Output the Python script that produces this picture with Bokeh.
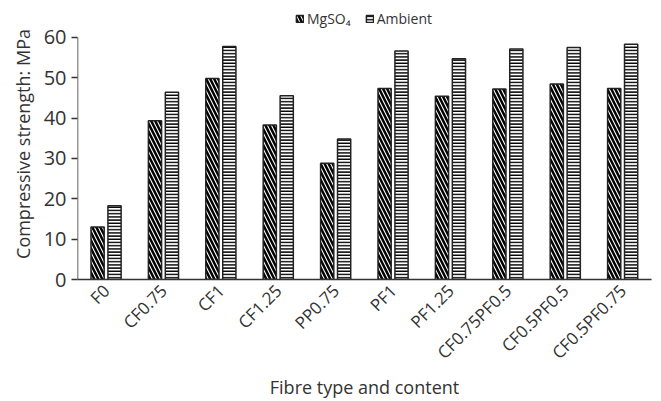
import math
from bokeh.plotting import figure
from bokeh.models import ColumnDataSource, FactorRange, Legend, LegendItem, Range1d, FixedTicker
from bokeh.transform import dodge
from bokeh.embed import file_html
from bokeh.resources import INLINE

categories = ["F0", "CF0.75", "CF1", "CF1.25", "PP0.75", "PF1", "PF1.25",
              "CF0.75PF0.5", "CF0.5PF0.5", "CF0.5PF0.75"]
mgso4 = [13.0, 39.3, 49.8, 38.3, 28.8, 47.3, 45.4, 47.2, 48.4, 47.3]
ambient = [18.3, 46.4, 57.7, 45.5, 34.8, 56.6, 54.7, 57.1, 57.5, 58.3]
series_labels = ["MgSO\u2084", "Ambient"]
y_ticks = [0, 10, 20, 30, 40, 50, 60]

src = ColumnDataSource(dict(cat=categories, mg=mgso4, amb=ambient))

FONT = "Open Sans"
TXT = "#333333"

TOP_BORDER = 8
BOTTOM = 120
FRAME_H = 401 - BOTTOM - TOP_BORDER
y_max = y_ticks[-1]
y_end = y_max * FRAME_H / (FRAME_H - (37 - TOP_BORDER))

p = figure(x_range=FactorRange(*categories), y_range=Range1d(0, y_end),
           width=661, height=401, output_backend="svg", toolbar_location=None,
           min_border_left=77, min_border_right=10, min_border_top=TOP_BORDER,
           min_border_bottom=BOTTOM)
p.x_range.range_padding = 0
p.outline_line_color = None
p.grid.grid_line_color = None
p.background_fill_color = "white"

r1 = p.vbar(x=dodge("cat", -0.15, range=p.x_range), top="mg", width=0.23, source=src,
            fill_color="white", line_color="#222222", line_width=1.5,
            hatch_pattern="\\", hatch_color="black", hatch_scale=8, hatch_weight=2.5)
r2 = p.vbar(x=dodge("cat", 0.145, range=p.x_range), top="amb", width=0.23, source=src,
            fill_color="white", line_color="#222222", line_width=1.5,
            hatch_pattern="-", hatch_color="black", hatch_scale=3.2, hatch_weight=1.6)

# y-axis line only from 0 to the last tick
axis_src = ColumnDataSource(dict(c=[categories[0]], y0=[y_ticks[0]], y1=[y_max]))
p.segment(x0=dodge("c", -0.5, range=p.x_range), x1=dodge("c", -0.5, range=p.x_range),
          y0="y0", y1="y1", source=axis_src, line_color="#333333", line_width=1.5)

p.yaxis.ticker = FixedTicker(ticks=y_ticks)
p.yaxis.axis_label = "Compressive strength: MPa"
p.xaxis.axis_label = "Fibre type and content"
for ax in (p.xaxis[0], p.yaxis[0]):
    ax.axis_label_text_font = FONT
    ax.axis_label_text_font_style = "normal"
    ax.axis_label_text_font_size = "18px"
    ax.axis_label_text_color = TXT
    ax.major_label_text_font = FONT
    ax.major_label_text_color = TXT
    ax.axis_line_color = "#333333"
    ax.axis_line_width = 1.5
    ax.minor_tick_line_color = None
p.yaxis.axis_line_color = None
p.yaxis.major_label_text_font_size = "20px"
p.yaxis.major_tick_line_color = "#333333"
p.yaxis.major_tick_line_width = 1.5
p.yaxis.major_tick_out = 6
p.yaxis.major_tick_in = 0
p.yaxis.axis_label_standoff = 6
p.xaxis.major_tick_line_color = None
p.xaxis.major_label_text_font_size = "17px"
p.xaxis.major_label_orientation = math.pi / 4
p.xaxis.major_label_standoff = 2
p.xaxis.axis_label_standoff = 0

legend = Legend(items=[LegendItem(label=series_labels[0], renderers=[r1]),
                       LegendItem(label=series_labels[1], renderers=[r2])],
                orientation="horizontal", location=(218, 251),
                label_text_font=FONT, label_text_font_size="14px", label_text_color=TXT,
                glyph_width=9, glyph_height=9, spacing=14, padding=0, margin=0,
                label_standoff=3, border_line_color=None, background_fill_alpha=0,
                label_height=14)
p.add_layout(legend, "center")

open("out.html", "w").write(file_html(p, INLINE))
